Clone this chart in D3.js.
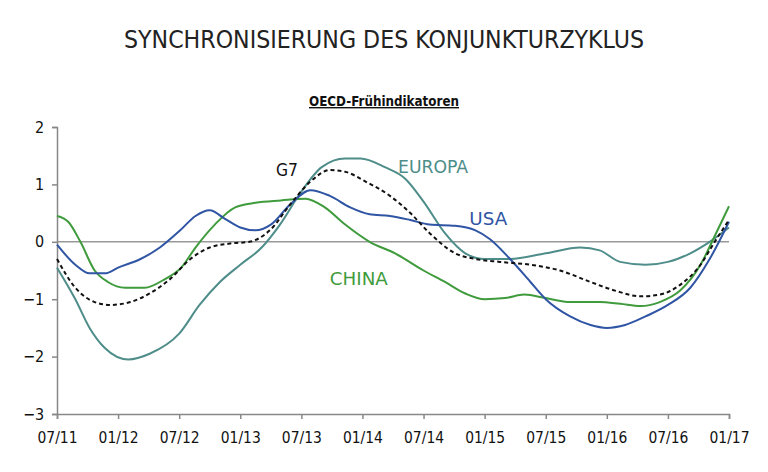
<!DOCTYPE html>
<html><head><meta charset="utf-8">
<script src="https://cdn.jsdelivr.net/npm/d3@7"></script>
<style>
body{margin:0;background:#fff;}
text{font-family:"Liberation Sans Narrow","DejaVu Sans Condensed","Roboto",sans-serif;}
</style></head>
<body><svg id="chart"></svg>
<script>
// months since 07/2011
var tickLabels = ["07/11","01/12","07/12","01/13","07/13","01/14","07/14","01/15","07/15","01/16","07/16","01/17"];
var europaM = [0,1.8,3.2,4.7,7,9.1,12,14,16,18,20.1,21.9,23.9,26,28.3,29.8,32.2,34.2,36,38.1,40.1,42,44.5,48,51.4,53.3,55.3,57.8,60,62.2,64.1,66];
var europaV = [-0.45,-1.0,-1.5,-1.85,-2.05,-1.95,-1.6,-1.1,-0.7,-0.4,-0.1,0.3,0.85,1.3,1.45,1.45,1.3,1.1,0.7,0.15,-0.2,-0.3,-0.3,-0.2,-0.1,-0.15,-0.35,-0.4,-0.35,-0.2,0.0,0.25];
var usaM = [0,1.8,3.2,4.7,6,8.2,10.1,12.1,13.6,15,16.5,18,19.5,21,22.9,24.9,26.8,28.8,30.7,32.7,34.7,36.6,39.1,41.1,42.5,44.5,46.5,48,50.4,52.4,54,55.8,57.8,60,62.2,64.1,66];
var usaV = [-0.05,-0.4,-0.55,-0.55,-0.45,-0.3,-0.1,0.2,0.45,0.55,0.4,0.25,0.2,0.3,0.65,0.9,0.8,0.6,0.48,0.45,0.38,0.3,0.28,0.2,0.05,-0.3,-0.7,-1.0,-1.3,-1.45,-1.5,-1.45,-1.3,-1.1,-0.8,-0.3,0.35];
var chinaM = [0,1.1,2.3,3.7,5,6.7,8.6,10.6,12.2,13.6,15.5,17.5,19.5,22,24.4,26.3,28.3,30.7,33.2,36,38.1,40.1,42,44,45.9,48,50.4,53.3,55.3,57.3,59.2,61.2,63.2,64.6,66];
var chinaV = [0.45,0.35,0.0,-0.5,-0.7,-0.8,-0.8,-0.65,-0.45,-0.1,0.3,0.6,0.68,0.72,0.75,0.6,0.3,0.0,-0.2,-0.5,-0.7,-0.9,-1.0,-0.98,-0.92,-0.98,-1.05,-1.05,-1.08,-1.12,-1.05,-0.85,-0.4,0.1,0.62];
var g7M = [0,1.8,3.7,5.2,7.2,9.1,11.1,13.1,15,17,18.9,20.9,22.9,24.9,26.8,28.3,30.3,32.7,34.7,36.6,39.1,41.1,43.5,46.5,49.4,52.4,54.8,57.3,59.2,61.2,63.2,64.6,66];
var g7V = [-0.3,-0.8,-1.05,-1.1,-1.05,-0.9,-0.65,-0.3,-0.1,-0.03,0.0,0.2,0.65,1.05,1.25,1.22,1.05,0.8,0.5,0.15,-0.2,-0.3,-0.35,-0.4,-0.5,-0.7,-0.85,-0.95,-0.92,-0.75,-0.4,0.0,0.38];
var yTicks = [2,1,0,-1,-2,-3];

var W = 768, H = 472;
var svg = d3.select("#chart").attr("width", W).attr("height", H);
var x = d3.scaleLinear().domain([0,66]).range([57,729]);
var y = d3.scaleLinear().domain([-3,2]).range([414,127]);

svg.append("text").attr("x",384).attr("y",48).attr("text-anchor","middle")
  .attr("font-size","25px").attr("fill","#222")
  .attr("textLength",520).attr("lengthAdjust","spacingAndGlyphs")
  .text("SYNCHRONISIERUNG DES KONJUNKTURZYKLUS");
svg.append("text").attr("x",384).attr("y",106).attr("text-anchor","middle")
  .attr("font-size","14px").attr("font-weight","bold").attr("fill","#111")
  .attr("textLength",150).attr("lengthAdjust","spacingAndGlyphs")
  .attr("text-decoration","underline").text("OECD-Frühindikatoren");

// zero line
svg.append("line").attr("x1",57).attr("x2",729).attr("y1",y(0)).attr("y2",y(0))
  .attr("stroke","#999").attr("stroke-width",1.5);

var yAxis = svg.append("g").attr("transform","translate(57,0)")
  .call(d3.axisLeft(y).tickValues(yTicks).tickSize(5).tickFormat(d3.format("d")));
var xAxis = svg.append("g").attr("transform","translate(0,414)")
  .call(d3.axisBottom(x).tickValues(d3.range(0,67,6)).tickSize(5)
    .tickFormat(function(d,i){return tickLabels[i];}));
[yAxis,xAxis].forEach(function(a){
  a.selectAll("path,line").attr("stroke","#888").attr("stroke-width",1.5);
  a.selectAll("text").attr("font-size","16px").attr("fill","#111")
    .style("font-family","'Liberation Sans Narrow','DejaVu Sans Condensed',sans-serif");
});
xAxis.selectAll("text").attr("dy","1.3em").attr("textLength",40).attr("lengthAdjust","spacingAndGlyphs");
yAxis.selectAll("text").attr("dx","-0.3em");

var line = d3.line().curve(d3.curveMonotoneX)
  .x(function(d){return x(d[0]);}).y(function(d){return y(d[1]);});
function draw(ms, vs, color, dash){
  svg.append("path").datum(d3.zip(ms, vs)).attr("d", line)
    .attr("fill","none").attr("stroke",color).attr("stroke-width",2)
    .attr("stroke-dasharray", dash || null);
}
draw(europaM, europaV, "#4e8d89");
draw(chinaM, chinaV, "#3f9b3c");
draw(usaM, usaV, "#2f55a4");
draw(g7M, g7V, "#111", "4,3");

function label(t, m, v, c, w){
  svg.append("text").attr("x",x(m)).attr("y",y(v)).attr("font-size","18px")
    .attr("fill",c).attr("textLength",w).attr("lengthAdjust","spacingAndGlyphs").text(t);
}
label("EUROPA", 33.5, 1.2, "#4e8d89", 70);
label("G7", 21.5, 1.15, "#111", 22);
label("USA", 40.5, 0.3, "#2f55a4", 38);
label("CHINA", 26.8, -0.75, "#3f9b3c", 58);
</script></body></html>
